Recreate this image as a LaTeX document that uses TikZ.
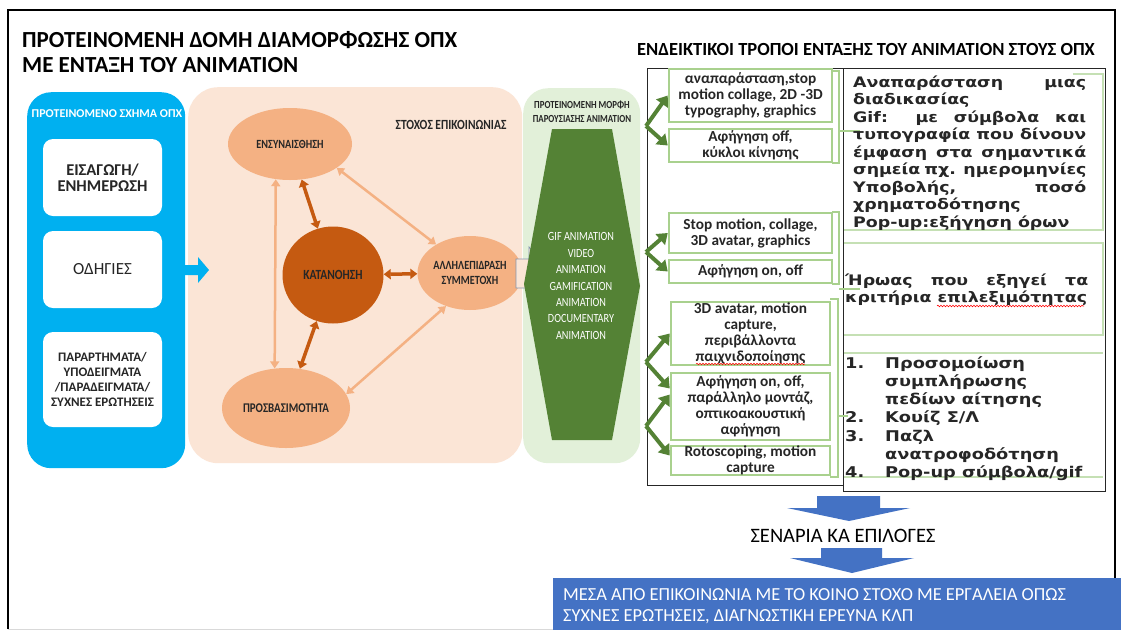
\documentclass[tikz,border=0pt]{standalone}
\usepackage{fontspec}
\setmainfont{Carlito}
\newfontfamily\cnd[FakeStretch=0.82]{Carlito}
\newfontfamily\vdj[FakeStretch=1.2]{DejaVu Sans}
\usetikzlibrary{shapes.geometric,arrows.meta,calc,decorations.pathmorphing}
\definecolor{cblue}{HTML}{00B0F0}
\definecolor{cpeach}{HTML}{FBE5D6}
\definecolor{corange}{HTML}{F4B183}
\definecolor{cdark}{HTML}{C55A11}
\definecolor{cgreenlt}{HTML}{E2F0D9}
\definecolor{cgreen}{HTML}{548235}
\definecolor{cgline}{HTML}{A9D18E}
\definecolor{cgline2}{HTML}{C5E0B4}
\definecolor{cbot}{HTML}{4472C4}
\definecolor{ctext}{HTML}{262626}
\definecolor{cout}{HTML}{8497B0}
\begin{document}
\begin{tikzpicture}[x=1pt,y=-1pt,
  wbox/.style={fill=white, rounded corners=10pt, minimum width=119pt, inner sep=0pt, align=center, text=ctext},
  ell/.style={ellipse, fill=corange, inner sep=0pt, text=ctext, font=\cnd\bfseries\fontsize{12.5}{15}\selectfont, align=center},
  gbox/.style={draw=cgline, line width=2.5pt, fill=white, inner sep=0pt, align=center, text=ctext, font=\bfseries\fontsize{15.3}{16}\selectfont},
  darkarr/.style={draw=cdark, line width=3.5pt, {Triangle[length=7pt,width=10pt]}-{Triangle[length=7pt,width=10pt]}},
  lightarr/.style={draw=corange, line width=2.5pt, {Triangle[length=7pt,width=9pt]}-{Triangle[length=7pt,width=9pt]}},
  garr/.style={draw=cgreen, line width=4pt, -{Triangle[length=10pt,width=14pt]}},
  brk/.style={draw=cgline, line width=2pt},
  gl/.style={draw=cgline2, line width=2pt},
  rtxt/.style={anchor=base west, inner sep=0pt, text=ctext, font=\vdj\bfseries\fontsize{14.5}{17.5}\selectfont}
]
\useasboundingbox (0,0) rectangle (1121,630);
\fill[white] (0,0) rectangle (1121,630);
% frame
\draw[line width=2pt] (8,629) -- (8,10) -- (1115,10) -- (1115,578);
\draw[black!15, line width=1pt] (8,629) -- (1115,629);

% titles
\node[anchor=base west, inner sep=0pt, font=\bfseries\fontsize{23}{27}\selectfont, text=black] (title1) at (22,47) {ΠΡΟΤΕΙΝΟΜΕΝΗ ΔΟΜΗ ΔΙΑΜΟΡΦΩΣΗΣ ΟΠΧ};
\node[anchor=base west, inner sep=0pt, font=\bfseries\fontsize{23}{27}\selectfont, text=black] (title2) at (22,72) {ΜΕ ΕΝΤΑΞΗ ΤΟΥ ANIMATION};
\node[anchor=base west, inner sep=0pt, font=\bfseries\fontsize{18.5}{22}\selectfont, text=black] (hdr) at (637,55) {ΕΝΔΕΙΚΤΙΚΟΙ ΤΡΟΠΟΙ ΕΝΤΑΞΗΣ ΤΟΥ ANIMATION ΣΤΟΥΣ ΟΠΧ};

% blue panel
\node[anchor=north west, fill=cblue, rounded corners=24pt, minimum width=158pt, minimum height=376pt, inner sep=0pt] (bluep) at (27,92) {};
\node[text=white, font=\bfseries\fontsize{12}{14}\selectfont, inner sep=0pt] (bluet) at (107,114) {ΠΡΟΤΕΙΝΟΜΕΝΟ ΣΧΗΜΑ ΟΠΧ};
\node[wbox, minimum height=77pt, font=\bfseries\fontsize{16.5}{16.5}\selectfont] (wb1) at (102.5,177.5) {ΕΙΣΑΓΩΓΗ/\\ΕΝΗΜΕΡΩΣΗ};
\node[wbox, minimum height=77pt, font=\fontsize{17}{20}\selectfont] (wb2) at (102.5,269.5) {ΟΔΗΓΙΕΣ};
\node[wbox, minimum height=95pt, font=\bfseries\fontsize{13}{14.8}\selectfont] (wb3) at (102.5,379.5) {ΠΑΡΑΡΤΗΜΑΤΑ/\\ΥΠΟΔΕΙΓΜΑΤΑ\\/ΠΑΡΑΔΕΙΓΜΑΤΑ/\\ΣΥΧΝΕΣ ΕΡΩΤΗΣΕΙΣ};

% peach panel
\node[anchor=north west, fill=cpeach, rounded corners=30pt, minimum width=334pt, minimum height=376pt, inner sep=0pt] (peachp) at (188,87) {};
% blue arrow from the scheme to the communication goal
\fill[cblue] (172,265) -- (198,265) -- (198,257) -- (209,270) -- (198,283) -- (198,275) -- (172,275) -- cycle;
\node[text=ctext, font=\cnd\bfseries\fontsize{14}{16}\selectfont, inner sep=0pt] (stoxos) at (451,125) {ΣΤΟΧΟΣ ΕΠΙΚΟΙΝΩΝΙΑΣ};
\node[ell, minimum width=124pt, minimum height=72pt] (ens) at (290,144) {ΕΝΣΥΝΑΙΣΘΗΣΗ};
\node[ell, minimum width=128pt, minimum height=80pt, font=\cnd\bfseries\fontsize{13.3}{15}\selectfont] (pros) at (286,408) {ΠΡΟΣΒΑΣΙΜΟΤΗΤΑ};
\node[ell, minimum width=105pt, minimum height=74pt] (all) at (470,273) {ΑΛΛΗΛΕΠΙΔΡΑΣΗ\\ΣΥΜΜΕΤΟΧΗ};
\node[ell, fill=cdark, minimum width=101pt, minimum height=97pt, font=\cnd\bfseries\fontsize{14}{16}\selectfont] (kat) at (333,275) {ΚΑΤΑΝΟΗΣΗ};
\draw[darkarr] (ens) -- (kat);
\draw[darkarr] (kat) -- (pros);
\draw[darkarr] (kat) -- (all);
\draw[lightarr] (ens.248) -- (pros.106);
\draw[lightarr] (ens.-27) -- (all.140);
\draw[lightarr] (pros.13) -- (all.234);

% green panel
\node[anchor=north west, fill=cgreenlt, rounded corners=25pt, minimum width=117pt, minimum height=375pt, inner sep=0pt] (greenp) at (523,88) {};
\node[text=ctext, align=center, font=\cnd\bfseries\fontsize{10.8}{14}\selectfont, inner sep=0pt] (greent) at (582,112) {ΠΡΟΤΕΙΝΟΜΕΝΗ ΜΟΡΦΗ\\ΠΑΡΟΥΣΙΑΣΗΣ ANIMATION};
% outline arrow from interaction to presentation form
\filldraw[fill=cpeach, draw=cout, line width=0.8pt] (516,259) -- (529,259) -- (529,247) -- (553,273) -- (529,299) -- (529,288) -- (516,288) -- cycle;
\fill[cgreen] (552,129) -- (612,129) -- (640,286) -- (612,440) -- (552,440) -- (524,284) -- cycle;
\node[text=white, align=center, font=\cnd\fontsize{12.5}{16.4}\selectfont, inner sep=0pt] (hext) at (581,286) {GIF ANIMATION\\VIDEO\\ANIMATION\\GAMIFICATION\\ANIMATION\\DOCUMENTARY\\ANIMATION};

% right tables
\draw[ctext, line width=1pt] (647,68) rectangle (843,485);
\draw[ctext, line width=1pt] (843,68) rectangle (1105,491);

\node[gbox, minimum width=163pt, minimum height=53pt] (b1) at (750.5,95.5) {αναπαράσταση,stop\\motion collage, 2D -3D\\typography, graphics};
\node[gbox, minimum width=163pt, minimum height=33pt] (b2) at (750.5,145.5) {Αφήγηση off,\\κύκλοι κίνησης};
\node[gbox, minimum width=163pt, minimum height=40pt] (b3) at (750.5,233) {Stop motion, collage,\\3D avatar, graphics};
\node[gbox, minimum width=163pt, minimum height=23pt] (b4) at (750.5,271.5) {Αφήγηση on, off};
\node[gbox, minimum width=159pt, minimum height=63pt] (b5) at (750.5,333.5) {3D avatar, motion\\capture,\\περιβάλλοντα\\παιχνιδοποίησης};
\node[gbox, minimum width=159pt, minimum height=67pt] (b6) at (750.5,406.5) {Αφήγηση on, off,\\παράλληλο μοντάζ,\\οπτικοακουστική\\αφήγηση};
\node[gbox, minimum width=159pt, minimum height=29pt] (b7) at (750.5,460.5) {Rotoscoping, motion\\capture};

% green arrows
\coordinate (g1) at (646,126);
\coordinate (g2) at (646,252);
\coordinate (g3) at (646,362);
\coordinate (g4) at (646,426);
\draw[garr] (g1) -- (b1.west);
\draw[garr] (g1) -- (b2.west);
\draw[garr] (g2) -- (b3.west);
\draw[garr] (g2) -- (b4.west);
\draw[garr] (g3) -- (b5.west);
\draw[garr] (g3) -- ($(b6.west)+(0,-18)$);
\draw[garr] (g4) -- ($(b6.west)+(0,-12)$);
\draw[garr] (g4) -- ($(b7.west)+(0,-5)$);

% brackets
\draw[brk] (832,71) -- (839,71) -- (839,163) -- (832,163);
\draw[brk] (839,131) -- (860,131);
\draw[brk] (832,212) -- (839,212) -- (839,284) -- (832,284);
\draw[brk] (839,289) -- (860,289);
\draw[brk] (830,299) -- (838,299) -- (838,477) -- (830,477);
\draw[brk] (838,416) -- (848,416);

% right column green outlines
\draw[gl] (1073,74) -- (1103,74) -- (1103,230) -- (844,230);
\draw[gl] (844,243) -- (1103,243) -- (1103,335) -- (844,335);
\draw[gl] (844,353) -- (1103,353);
\draw[gl] (844,477) -- (1103,477);

% right column texts
\node[rtxt] (t1) at (853,87) {\parbox[t]{233pt}{%
\makebox[233pt][s]{Αναπαράσταση μιας}\\
διαδικασίας\\
\makebox[233pt][s]{Gif: με σύμβολα και}\\
\makebox[233pt][s]{τυπογραφία που δίνουν}\\
\makebox[233pt][s]{έμφαση στα σημαντικά}\\
\makebox[233pt][s]{σημεία πχ. ημερομηνίες}\\
\makebox[233pt][s]{Υποβολής, ποσό}\\
χρηματοδότησης\\
Pop-up:εξήγηση όρων}};
\node[rtxt] (t2) at (845,285) {\parbox[t]{243pt}{%
\makebox[243pt][s]{Ήρωας που εξηγεί τα}\\
κριτήρια επιλεξιμότητας}};
\draw[red, line width=0.6pt, decorate, decoration={snake, amplitude=0.8pt, segment length=3pt}] (937,306) -- (1084,306);
\draw[red, line width=0.5pt, decorate, decoration={snake, amplitude=0.7pt, segment length=3pt}] (696,364) -- (805,364);
\node[rtxt, font=\vdj\bfseries\fontsize{14.8}{18.3}\selectfont] (t3) at (845,368) {\parbox[t]{258pt}{%
\makebox[40pt][l]{1.}Προσομοίωση\\
\hspace*{40pt}συμπλήρωσης\\
\hspace*{40pt}πεδίων αίτησης\\
\makebox[40pt][l]{2.}Κουίζ Σ/Λ\\
\makebox[40pt][l]{3.}Παζλ\\
\hspace*{40pt}ανατροφοδότηση\\
\makebox[40pt][l]{4.}Pop-up σύμβολα/gif}};

% bottom
\fill[cbot] (817,496) -- (880,496) -- (880,508) -- (910,508) -- (849,521) -- (787,508) -- (817,508) -- cycle;
\node[text=black, font=\fontsize{20.5}{24}\selectfont, inner sep=0pt] (sen) at (843,536) {ΣΕΝΑΡΙΑ ΚΑ ΕΠΙΛΟΓΕΣ};
\fill[cbot] (821,548) -- (882,548) -- (882,558) -- (914,558) -- (852,573) -- (790,558) -- (821,558) -- cycle;
\fill[cbot] (553,578) rectangle (1121,630);
\node[anchor=base west, inner sep=0pt, text=white, font=\fontsize{18.4}{21}\selectfont] (bot1) at (563,600) {ΜΕΣΑ ΑΠΟ ΕΠΙΚΟΙΝΩΝΙΑ ΜΕ ΤΟ ΚΟΙΝΟ ΣΤΟΧΟ ΜΕ ΕΡΓΑΛΕΙΑ ΟΠΩΣ};
\node[anchor=base west, inner sep=0pt, text=white, font=\fontsize{18.4}{21}\selectfont] (bot2) at (563,621) {ΣΥΧΝΕΣ ΕΡΩΤΗΣΕΙΣ, ΔΙΑΓΝΩΣΤΙΚΗ ΕΡΕΥΝΑ ΚΛΠ};
\end{tikzpicture}
\end{document}
